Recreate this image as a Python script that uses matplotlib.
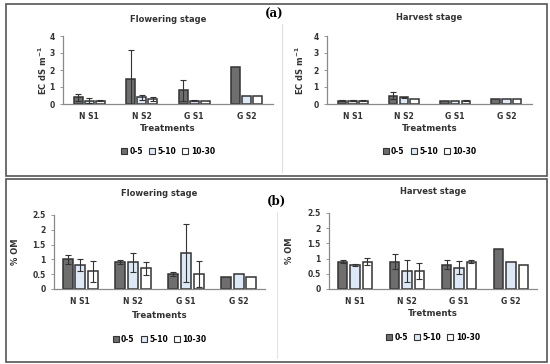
import numpy as np
import matplotlib
matplotlib.use("Agg")
import matplotlib.pyplot as plt
from matplotlib.patches import Rectangle, Patch
from matplotlib.lines import Line2D

treatments = ["N S1", "N S2", "G S1", "G S2"]
depths = ["0-5", "5-10", "10-30"]

# EC (dS m-1), flowering stage: rows = depth, cols = treatment
ec_flower = [[0.40, 1.50, 0.80, 2.20],
             [0.20, 0.40, 0.20, 0.48],
             [0.20, 0.30, 0.18, 0.48]]
ec_flower_err = [[0.20, 1.65, 0.62, 0.0],
                 [0.15, 0.15, 0.05, 0.0],
                 [0.05, 0.10, 0.0, 0.0]]

# EC, harvest stage
ec_harvest = [[0.18, 0.50, 0.15, 0.27],
              [0.20, 0.40, 0.15, 0.27],
              [0.20, 0.30, 0.20, 0.27]]
ec_harvest_err = [[0.03, 0.22, 0.0, 0.0],
                  [0.03, 0.03, 0.0, 0.0],
                  [0.03, 0.0, 0.03, 0.0]]

# % OM, flowering stage
om_flower = [[1.00, 0.90, 0.50, 0.40],
             [0.80, 0.90, 1.20, 0.50],
             [0.60, 0.70, 0.50, 0.40]]
om_flower_err = [[0.15, 0.07, 0.07, 0.0],
                 [0.20, 0.32, 0.98, 0.0],
                 [0.35, 0.22, 0.43, 0.0]]

# % OM, harvest stage
om_harvest = [[0.90, 0.90, 0.80, 1.30],
              [0.80, 0.60, 0.70, 0.90],
              [0.90, 0.60, 0.90, 0.80]]
om_harvest_err = [[0.05, 0.25, 0.15, 0.0],
                  [0.03, 0.37, 0.22, 0.0],
                  [0.12, 0.27, 0.05, 0.0]]

colors = ["#6e6e6e", "#dde9f6", "#ffffff"]
edge = "#333333"
W, H = 550, 364

fig = plt.figure(figsize=(W / 100, H / 100), dpi=100)
plt.rcParams["font.family"] = "DejaVu Sans"
plt.rcParams["font.weight"] = "bold"


def px(x0, x1, ytop, ybot):
    return [x0 / W, 1 - ybot / H, (x1 - x0) / W, (ybot - ytop) / H]


def panel(rect, vals, errs, ymax, yticks, yticklabels, title, xlabel, ylabel,
          off, bw, title_y, xlab_y, leg_y, ylab_x):
    ax = fig.add_axes(rect)
    x = np.arange(len(treatments))
    for i in range(3):
        ax.bar(x + (i - 1) * off, vals[i], bw, color=colors[i],
               edgecolor=edge, linewidth=1.1, zorder=2)
        e = np.array(errs[i])
        m = e > 0
        ax.errorbar((x + (i - 1) * off)[m], np.array(vals[i])[m], yerr=e[m],
                    fmt="none", ecolor="#333333", elinewidth=0.8,
                    capsize=2.2, capthick=0.8, zorder=3)
    ax.set_xlim(-0.5, 3.5)
    ax.set_ylim(0, ymax)
    ax.set_yticks(yticks)
    ax.set_yticklabels(yticklabels, fontsize=5.5, fontweight="bold",
                       color="#333333")
    ax.set_xticks(x)
    ax.set_xticklabels(treatments, fontsize=5.5, fontweight="bold",
                       color="#333333")
    ax.tick_params(axis="x", length=0, pad=6)
    ax.tick_params(axis="y", length=2, width=0.6, color="#888888", pad=4)
    for s in ["top", "right"]:
        ax.spines[s].set_visible(False)
    for s in ["left", "bottom"]:
        ax.spines[s].set_color("#8a8a8a")
        ax.spines[s].set_linewidth(0.9)
    ax.set_facecolor("none")
    cx = (rect[0] + rect[2] / 2)
    fig.text(cx, 1 - title_y / H, title, ha="center", va="center",
             fontsize=6, fontweight="bold", color="#333333")
    fig.text(cx, 1 - xlab_y / H, xlabel, ha="center", va="center",
             fontsize=6.2, fontweight="bold", color="#333333")
    fig.text(ylab_x / W, rect[1] + rect[3] / 2, ylabel, ha="center",
             va="center", rotation=90, fontsize=6, fontweight="bold",
             color="#333333")
    handles = [Patch(facecolor=colors[i], edgecolor=edge, linewidth=0.8,
                     label=depths[i]) for i in range(3)]
    fig.legend(handles=handles, loc="center",
               bbox_to_anchor=(cx, 1 - leg_y / H), ncol=3, frameon=False,
               handlelength=0.8, handleheight=0.8,
               handletextpad=0.3, columnspacing=0.8,
               prop={"weight": "bold", "size": 5.5})
    return ax


ec_ticks = [0, 1, 2, 3, 4]
om_ticks = [0, 0.5, 1, 1.5, 2, 2.5]
om_labels = ["0", "0.5", "1", "1.5", "2", "2.5"]

panel(px(63, 273, 36, 104), ec_flower, ec_flower_err, 4, ec_ticks,
      [str(t) for t in ec_ticks], "Flowering stage", "Treatments",
      "EC dS m$^{\\mathbf{-1}}$", 0.21, 0.17, 20, 128, 151, 43)
panel(px(327, 532, 36, 104), ec_harvest, ec_harvest_err, 4, ec_ticks,
      [str(t) for t in ec_ticks], "Harvest stage", "Treatments",
      "EC dS m$^{\\mathbf{-1}}$", 0.21, 0.17, 17, 128, 151, 300)
panel(px(54, 265, 215, 289), om_flower, om_flower_err, 2.5, om_ticks,
      om_labels, "Flowering stage", "Treatments", "% OM",
      0.24, 0.19, 194, 315, 339, 15)
panel(px(329, 537, 213, 289), om_harvest, om_harvest_err, 2.5, om_ticks,
      om_labels, "Harvest stage", "Tretments", "% OM",
      0.24, 0.19, 191, 313, 337, 290)

# panel labels
fig.text(274 / W, 1 - 14 / H, "(a)", ha="center", va="center",
         fontsize=8.5, family="DejaVu Serif", weight="bold")
fig.text(276 / W, 1 - 201 / H, "(b)", ha="center", va="center",
         fontsize=8.5, family="DejaVu Serif", weight="bold")

# frames around the two rows
fig.patches.append(Rectangle((6 / W, 1 - 176 / H), 541 / W, 172 / H,
                             transform=fig.transFigure, fill=False,
                             edgecolor="#555555", linewidth=1.2))
fig.patches.append(Rectangle((6 / W, 1 - 362 / H), 541 / W, 183 / H,
                             transform=fig.transFigure, fill=False,
                             edgecolor="#555555", linewidth=1.2))
fig.add_artist(Line2D([282 / W, 282 / W], [1 - 172 / H, 1 - 24 / H],
                      transform=fig.transFigure, color="#dddddd", lw=0.8))
fig.add_artist(Line2D([277 / W, 277 / W], [1 - 358 / H, 1 - 212 / H],
                      transform=fig.transFigure, color="#e4e4e4", lw=0.8))

fig.savefig("out.png", dpi=100)
